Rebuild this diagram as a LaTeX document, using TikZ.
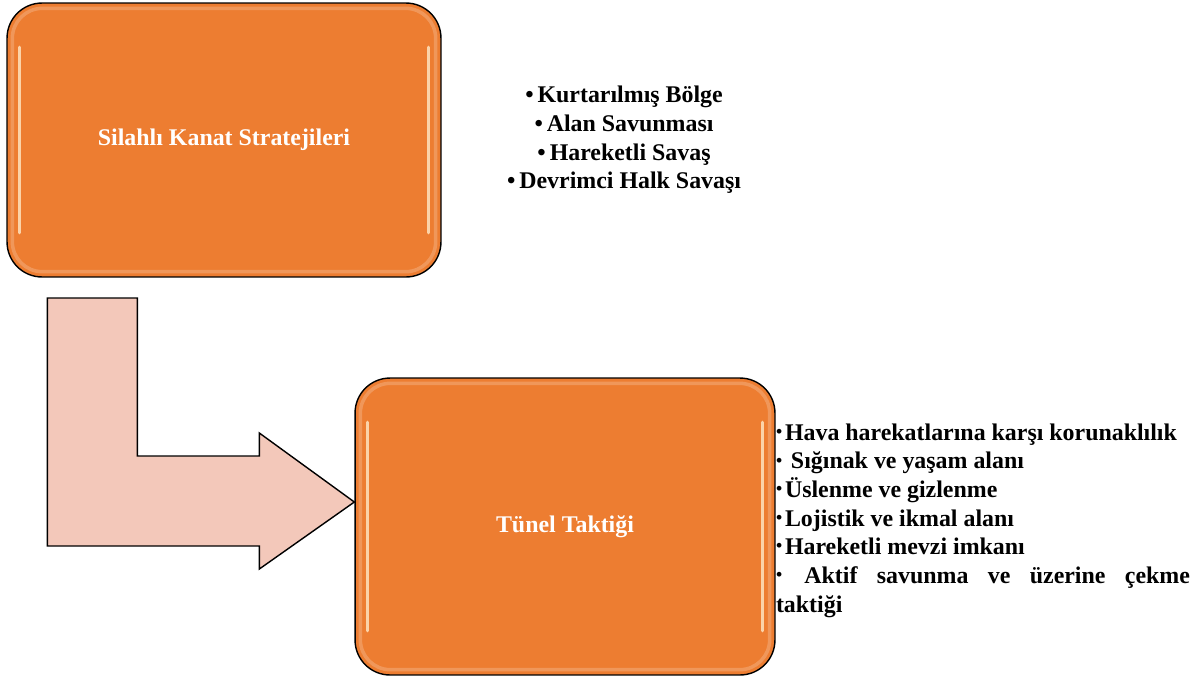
\documentclass[tikz,border=0pt]{standalone}
\usepackage{fontspec}
\setmainfont{Liberation Serif}
\usetikzlibrary{positioning,calc}
\definecolor{boxorange}{HTML}{ED7D31}
\definecolor{arrowpink}{HTML}{F3C8BA}
\definecolor{glossline}{HTML}{FFE9C8}
\newcommand{\smallbul}{\makebox[0.18cm][l]{\raisebox{1.6pt}{\fontsize{10}{10}\selectfont•}}}
\tikzset{
    stratbox/.style={draw, thick, fill=boxorange, rounded corners=0.7cm, text=white, font=\bfseries\fontsize{13.6}{16.3}\selectfont},
    itemlist/.style={font=\bfseries\fontsize{13.6}{16.3}\selectfont, inner sep=0pt},
    bentarrow/.style={draw, thick, fill=arrowpink, line join=miter},
    gloss/.style={line width=2pt, glossline, line cap=round, opacity=0.8},
    rim/.style={line width=2pt, boxorange!60!white, opacity=0.5, rounded corners=0.6cm}
}

\begin{document}
\begin{tikzpicture}[x=0.02cm, y=-0.02cm]
            \useasboundingbox (0,0) rectangle (1196,680);

            % Upper box and its list
            \node[stratbox, minimum width=8.68cm, minimum height=5.48cm] (box1) at (224,140) {Silahlı Kanat Stratejileri};
            \node[itemlist, align=center, right=1.3cm of box1] (goals) {•\,Kurtarılmış Bölge\\ •\,Alan Savunması\\ •\,Hareketli Savaş\\ •\,Devrimci Halk Savaşı};

            % Lower box and its list
            \node[stratbox, minimum width=8.4cm, minimum height=5.94cm] (box2) at (565,526.5) {Tünel Taktiği};
            \node[itemlist, text width=8.28cm, align=justify, right=0pt of box2, yshift=0.12cm] (tactics) {\smallbul Hava harekatlarına karşı korunaklılık\\ \smallbul\ Sığınak ve yaşam alanı\\ \smallbul Üslenme ve gizlenme\\ \smallbul Lojistik ve ikmal alanı\\ \smallbul Hareketli mevzi imkanı\\ \smallbul\ Aktif savunma ve üzerine çekme\linebreak taktiği};

            % glossy edges
            \foreach \b in {box1,box2} {
                \draw[rim] ([xshift=0.12cm,yshift=-0.12cm]\b.north west) rectangle ([xshift=-0.12cm,yshift=0.12cm]\b.south east);
                \draw[gloss] ([xshift=0.26cm,yshift=-0.9cm]\b.north west) -- ([xshift=0.26cm,yshift=0.9cm]\b.south west);
                \draw[gloss] ([xshift=-0.26cm,yshift=-0.9cm]\b.north east) -- ([xshift=-0.26cm,yshift=0.9cm]\b.south east);
            }

            % Bent arrow from box1 down to box2
            \coordinate (tip) at ([yshift=0.49cm]box2.west);
            \draw[bentarrow] (tip) -- ++(-95,67) -- ++(0,-23) -- ++(-212,0) -- ++(0,-248) -- ++(90,0) -- ++(0,158) -- ++(122,0) -- ++(0,-23) -- cycle;
        \end{tikzpicture}
\end{document}
